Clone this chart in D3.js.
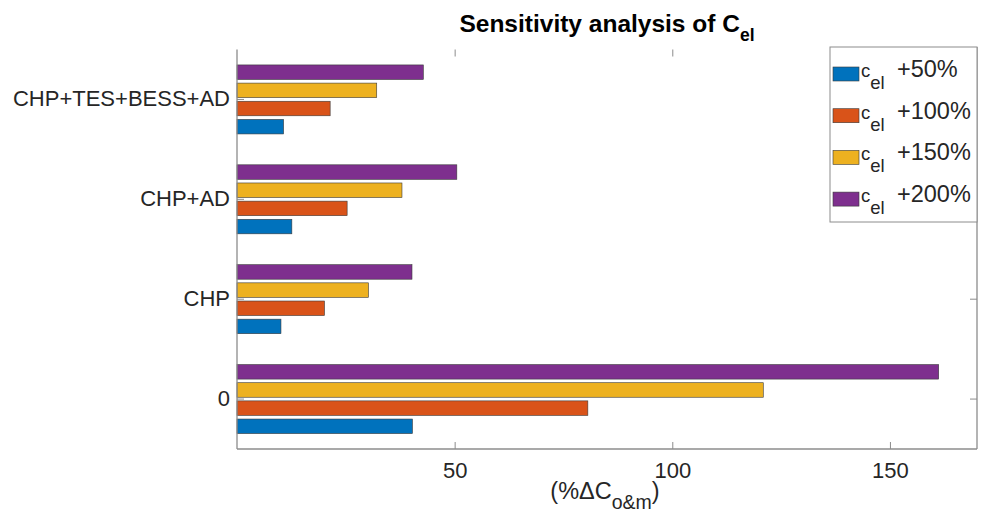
<!DOCTYPE html>
<html>
<head>
<meta charset="utf-8">
<script src="https://cdn.jsdelivr.net/npm/d3@7"></script>
<style>
  body { margin: 0; background: #fff; }
  svg text { font-family: "Liberation Sans", Arial, Helvetica, sans-serif; fill: #262626; }
</style>
</head>
<body>
<svg id="chart" width="982" height="509"></svg>
<script>
// Scenarios (bottom to top) and the change in O&M cost for each electricity price rise
const categories = ["0", "CHP", "CHP+AD", "CHP+TES+BESS+AD"];
const seriesLabels = ["+50%", "+100%", "+150%", "+200%"];
const seriesColors = ["#0072BD", "#D95319", "#EDB120", "#7E2F8E"];
const cel50  = [40.3, 10.1, 12.6, 10.7];
const cel100 = [80.6, 20.1, 25.3, 21.4];
const cel150 = [120.9, 30.2, 37.9, 32.1];
const cel200 = [161.2, 40.2, 50.5, 42.8];
const xTickValues = [50, 100, 150];
const xDomain = [0, 170];

const series = [cel50, cel100, cel150, cel200];

const svg = d3.select("#chart");
const plot = { left: 237, right: 977, top: 49.5, bottom: 449 };
const axisColor = "#8c8c8c";
const tickLen = 7;

const x = d3.scaleLinear().domain(xDomain).range([plot.left, plot.right]);
const y = d3.scaleBand().domain(categories).range([plot.bottom, plot.top]);

// grouped bars: four slots per category, blue at the bottom
const groupH = y.bandwidth() * 4 / 5.5;
const slot = d3.scaleBand().domain(d3.range(series.length)).range([groupH / 2, -groupH / 2]);
const barH = slot.bandwidth() * 0.8;

// tick marks sit beneath the bars
const gTicks = svg.append("g");
gTicks.append("g")
  .attr("transform", `translate(0,${plot.bottom})`)
  .call(d3.axisBottom(x).tickValues(xTickValues).tickSizeInner(-tickLen).tickSizeOuter(0).tickPadding(13).tickFormat(d3.format("d")))
  .call(g => g.select(".domain").remove())
  .call(g => g.selectAll(".tick line").attr("stroke", axisColor))
  .call(g => g.selectAll(".tick text").attr("font-size", 22).attr("fill", "#262626"));
gTicks.append("g")
  .attr("transform", `translate(0,${plot.top})`)
  .call(d3.axisTop(x).tickValues(xTickValues).tickSizeInner(-tickLen).tickSizeOuter(0).tickFormat(""))
  .call(g => g.select(".domain").remove())
  .call(g => g.selectAll(".tick line").attr("stroke", axisColor));
gTicks.append("g")
  .attr("transform", `translate(${plot.left},0)`)
  .call(d3.axisLeft(y).tickSizeInner(-tickLen).tickSizeOuter(0).tickPadding(7))
  .call(g => g.select(".domain").remove())
  .call(g => g.selectAll(".tick line").attr("stroke", axisColor))
  .call(g => g.selectAll(".tick text").attr("font-size", 22).attr("fill", "#262626"));
gTicks.append("g")
  .attr("transform", `translate(${plot.right},0)`)
  .call(d3.axisRight(y).tickSizeInner(-tickLen).tickSizeOuter(0).tickFormat(""))
  .call(g => g.select(".domain").remove())
  .call(g => g.selectAll(".tick line").attr("stroke", axisColor));

// bars
series.forEach((vals, si) => {
  svg.append("g").selectAll("rect")
    .data(categories.map((c, ci) => ({ c, v: vals[ci] })))
    .join("rect")
    .attr("x", x(0))
    .attr("width", d => x(d.v) - x(0))
    .attr("y", d => y(d.c) + y.bandwidth() / 2 + slot(si) + (slot.bandwidth() - barH) / 2)
    .attr("height", barH)
    .attr("fill", seriesColors[si])
    .attr("stroke", "#3a3a3a")
    .attr("stroke-width", 0.6);
});

// axis lines: left, bottom, right
const lines = svg.append("g").attr("stroke", axisColor).attr("stroke-width", 1.3).attr("fill", "none");
lines.append("line").attr("x1", plot.left).attr("x2", plot.left).attr("y1", plot.top).attr("y2", plot.bottom);
lines.append("line").attr("x1", plot.left).attr("x2", plot.right).attr("y1", plot.bottom).attr("y2", plot.bottom);
lines.append("line").attr("x1", plot.right).attr("x2", plot.right).attr("y1", plot.top - 2.5).attr("y2", plot.bottom);

// title
const title = svg.append("text")
  .attr("x", 607).attr("y", 32)
  .attr("text-anchor", "middle")
  .attr("font-size", 24.5).attr("font-weight", "bold")
  .style("fill", "#000");
title.append("tspan").text("Sensitivity analysis of C");
title.append("tspan").attr("dy", 9).attr("font-size", 17.5).text("el");

// x-axis label
const xl = svg.append("text")
  .attr("x", 605).attr("y", 499)
  .attr("text-anchor", "middle")
  .attr("font-size", 23.5);
xl.append("tspan").text("(%ΔC");
xl.append("tspan").attr("dy", 10).attr("font-size", 19.5).text("o&m");
xl.append("tspan").attr("dy", -10).text(")");

// legend
const leg = { x: 830, y: 47, w: 147, h: 175 };
const legend = svg.append("g");
legend.append("rect")
  .attr("x", leg.x).attr("y", leg.y).attr("width", leg.w).attr("height", leg.h)
  .attr("fill", "#fff").attr("stroke", axisColor).attr("stroke-width", 1);
seriesLabels.forEach((lab, i) => {
  const cy = 74 + i * 41.7;
  legend.append("rect")
    .attr("x", 833).attr("y", cy - 7).attr("width", 26).attr("height", 14)
    .attr("fill", seriesColors[i]).attr("stroke", "#3a3a3a").attr("stroke-width", 0.6);
  const t = legend.append("text").attr("x", 861).attr("y", cy + 3);
  t.append("tspan").attr("font-size", 18.5).text("c");
  t.append("tspan").attr("dy", 12).attr("font-size", 18.5).text("el");
  t.append("tspan").attr("x", 897).attr("dy", -12).attr("font-size", 23.5).text(lab);
});
</script>
</body>
</html>
